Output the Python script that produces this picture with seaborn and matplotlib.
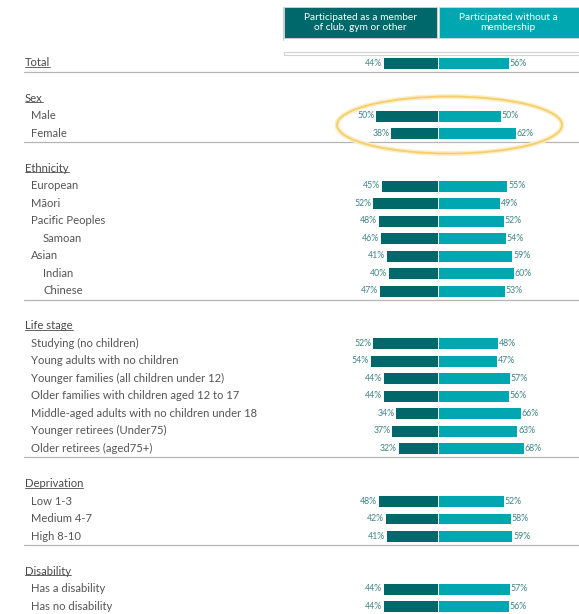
#!/usr/bin/env python3
"""
Sport participation: with a club/gym membership vs without, by population group.
Diverging horizontal bars drawn with seaborn.
"""

import pandas as pd
import seaborn as sns
import matplotlib.pyplot as plt
from matplotlib.patches import Rectangle, Ellipse
from matplotlib.lines import Line2D

# Data
total_member = [44]
total_without = [56]

sex_labels = ["Male", "Female"]
sex_member = [50, 38]
sex_without = [50, 62]

eth_labels = ["European", "Māori", "Pacific Peoples", "Samoan", "Asian", "Indian", "Chinese"]
eth_levels = [1, 1, 1, 2, 1, 2, 2]
eth_member = [45, 52, 48, 46, 41, 40, 47]
eth_without = [55, 49, 52, 54, 59, 60, 53]

life_labels = [
    "Studying (no children)",
    "Young adults with no children",
    "Younger families (all children under 12)",
    "Older families with children aged 12 to 17",
    "Middle-aged adults with no children under 18",
    "Younger retirees (Under75)",
    "Older retirees (aged75+)",
]
life_member = [52, 54, 44, 44, 34, 37, 32]
life_without = [48, 47, 57, 56, 66, 63, 68]

dep_labels = ["Low 1-3", "Medium 4-7", "High 8-10"]
dep_member = [48, 42, 41]
dep_without = [52, 58, 59]

dis_labels = ["Has a disability", "Has no disability"]
dis_member = [44, 44]
dis_without = [57, 56]

series_names = ["Participated as a member\nof club, gym or other",
                "Participated without a\nmembership"]

DARK = "#00676B"
LIGHT = "#00A6B0"
PCT_COL = "#3f8487"
LABEL_COL = "#555555"

W, H = 579, 614
ROW_PX = 17.52
TOP_PX = 63
CENTER_PX = 438
SCALE = 1.26  # px per percent


def build_rows():
    rows = []  # (kind, label, level, member, without)
    rows.append(("data", "Total", 0, total_member[0], total_without[0]))
    rows.append(("sep", "", 0, None, None))
    sections = [
        ("Sex", sex_labels, [1] * len(sex_labels), sex_member, sex_without),
        ("Ethnicity", eth_labels, eth_levels, eth_member, eth_without),
        ("Life stage", life_labels, [1] * len(life_labels), life_member, life_without),
        ("Deprivation", dep_labels, [1] * len(dep_labels), dep_member, dep_without),
        ("Disability", dis_labels, [1] * len(dis_labels), dis_member, dis_without),
    ]
    for k, (head, labels, levels, mem, wo) in enumerate(sections):
        rows.append(("head", head, 0, None, None))
        for lab, lev, m, w in zip(labels, levels, mem, wo):
            rows.append(("data", lab, lev, m, w))
        if k < len(sections) - 1:
            rows.append(("sep", "", 0, None, None))
    return rows


def fx(px):
    return px / W


def fy(py):
    return 1 - py / H


def main():
    rows = build_rows()
    keys = [f"r{i}" for i in range(len(rows))]

    records = []
    for key, (kind, lab, lev, m, w) in zip(keys, rows):
        if kind == "data":
            records.append({"key": key, "series": series_names[0], "value": -m})
            records.append({"key": key, "series": series_names[1], "value": w})
    df = pd.DataFrame(records)

    sns.set_theme(style="white")
    plt.rcParams["font.family"] = ["Lato", "DejaVu Sans"]

    fig = plt.figure(figsize=(W / 100, H / 100), dpi=100)
    ax = fig.add_axes([0, 0, 1, 1])

    sns.barplot(data=df, x="value", y="key", hue="series", order=keys,
                orient="h", dodge=False, width=0.68, saturation=1,
                palette={series_names[0]: DARK, series_names[1]: LIGHT},
                edgecolor="white", linewidth=0.7, legend=False, ax=ax)

    ax.set_xlim(-CENTER_PX / SCALE, (W - CENTER_PX) / SCALE)
    ax.set_ylim((H - TOP_PX) / ROW_PX, -TOP_PX / ROW_PX)
    ax.axis("off")

    # row labels, percentages and separators
    indent = {0: 25, 1: 31, 2: 43}
    underline = []
    for i, (kind, lab, lev, m, w) in enumerate(rows):
        if kind == "sep":
            ax.axhline(i - 0.5, xmin=fx(24), xmax=1, color="#b5b5b5", lw=0.9)
            continue
        t = ax.text(fx(indent[lev]), i, lab, transform=ax.get_yaxis_transform(),
                    ha="left", va="center", fontsize=8.1,
                    color="#4a4a4a" if lev == 0 else LABEL_COL)
        if lev == 0:
            underline.append(t)
        if kind == "data":
            ax.text(-m - 0.6, i, f"{m}%", ha="right", va="center",
                    fontsize=6.3, color=PCT_COL)
            ax.text(w + 0.6, i, f"{w}%", ha="left", va="center",
                    fontsize=6.3, color=PCT_COL)

    # header boxes
    fig.patches.append(Rectangle((fx(284), fy(38)), (437 - 284) / W, 31 / H,
                                 transform=fig.transFigure, fc=DARK,
                                 ec="#d6d6d6", lw=0.6))
    fig.patches.append(Rectangle((fx(439), fy(38)), (W - 439) / W, 31 / H,
                                 transform=fig.transFigure, fc=LIGHT,
                                 ec="#d6d6d6", lw=0.6))
    fig.text(fx(360.5), fy(22.5), series_names[0], ha="center", va="center",
             color="white", fontsize=7.3, linespacing=1.15)
    fig.text(fx(508), fy(22.5), series_names[1], ha="center", va="center",
             color="white", fontsize=7.3, linespacing=1.15)
    fig.lines.append(Line2D([fx(283), fx(283)], [fy(7), fy(40)],
                            transform=fig.transFigure, color="#cfcfcf", lw=0.8))
    fig.patches.append(Rectangle((fx(284), fy(55)), (W - 284) / W, 3.5 / H,
                                 transform=fig.transFigure, fc="none",
                                 ec="#d3d3d3", lw=0.8))

    # underline the group headings
    fig.canvas.draw()
    inv = fig.transFigure.inverted()
    for t in underline:
        bb = t.get_window_extent().transformed(inv)
        y = bb.y0 + 1.2 / H
        fig.lines.append(Line2D([bb.x0, bb.x1], [y, y], transform=fig.transFigure,
                                color="#4a4a4a", lw=0.6))

    # highlight around the Sex rows
    ell_kw = dict(width=225 / W, height=57 / H, transform=fig.transFigure, fc="none")
    fig.patches.append(Ellipse((fx(449.5), fy(125)), ec="#fbeec6", lw=3.5, **ell_kw))
    fig.patches.append(Ellipse((fx(449.5), fy(125)), ec="#f4cf6a", lw=1.3, **ell_kw))

    fig.savefig("out.png", dpi=100)


if __name__ == "__main__":
    main()
